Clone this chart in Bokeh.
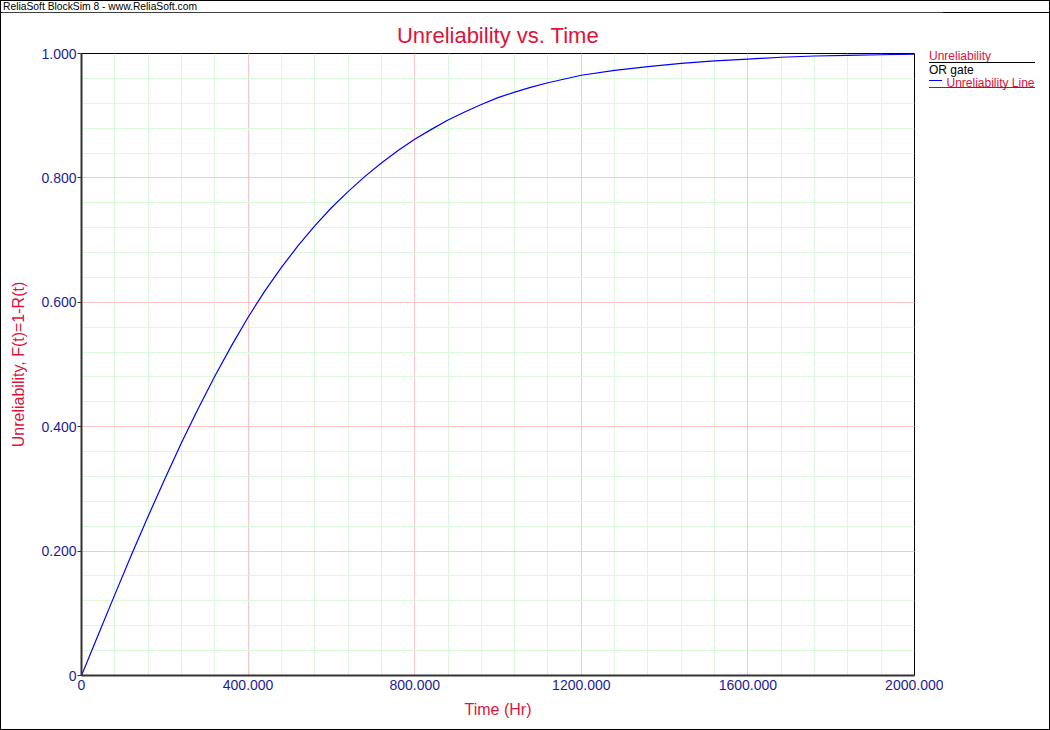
from bokeh.plotting import figure
from bokeh.models import Range1d, FixedTicker, CustomJSTickFormatter, Div
from bokeh.layouts import column, row
from bokeh.embed import file_html
from bokeh.resources import INLINE

# ---------------- data ----------------
time_hr = [0, 40, 80, 120, 160, 200, 240, 280, 320, 360, 400, 440, 480, 520, 560, 600,
           640, 680, 720, 760, 800, 840, 880, 920, 960, 1000, 1040, 1080, 1120, 1160,
           1200, 1280, 1360, 1440, 1520, 1600, 1680, 1760, 1840, 1920, 2000]
unreliability = [0.0, 0.065, 0.130, 0.194, 0.256, 0.316, 0.374, 0.429, 0.481, 0.530,
                 0.576, 0.618, 0.656, 0.691, 0.723, 0.752, 0.778, 0.802, 0.824, 0.844,
                 0.862, 0.878, 0.893, 0.906, 0.918, 0.929, 0.938, 0.946, 0.953, 0.959,
                 0.965, 0.973, 0.979, 0.984, 0.988, 0.991, 0.994, 0.996, 0.997, 0.998, 0.999]

x_ticks = [0, 400, 800, 1200, 1600, 2000]
x_tick_labels = ["0", "400.000", "800.000", "1200.000", "1600.000", "2000.000"]
x_minor_ticks = [0, 80, 160, 240, 320, 400, 480, 560, 640, 720, 800, 880, 960, 1040,
                 1120, 1200, 1280, 1360, 1440, 1520, 1600, 1680, 1760, 1840, 1920, 2000]
y_ticks = [0, 0.2, 0.4, 0.6, 0.8, 1.0]
y_tick_labels = ["0", "0.200", "0.400", "0.600", "0.800", "1.000"]
y_minor_ticks = [0, 0.04, 0.08, 0.12, 0.16, 0.2, 0.24, 0.28, 0.32, 0.36, 0.4, 0.44, 0.48,
                 0.52, 0.56, 0.6, 0.64, 0.68, 0.72, 0.76, 0.8, 0.84, 0.88, 0.92, 0.96, 1.0]

header_text = "ReliaSoft BlockSim 8 - www.ReliaSoft.com"
title_text = "Unreliability vs. Time"
x_title = "Time (Hr)"
y_title = "Unreliability, F(t)=1-R(t)"
legend_items = ["Unreliability", "OR gate", "Unreliability Line"]

# ---------------- style ----------------
FONT = "Liberation Sans"
CRIMSON = "#dc143c"
TICK_BLUE = "#1c1c9a"

FIG_W, FIG_H = 942, 717
p = figure(width=FIG_W, height=FIG_H, output_backend="svg", toolbar_location=None,
           x_range=Range1d(0, 2000), y_range=Range1d(0, 1.0),
           min_border_left=80, min_border_right=29,
           min_border_top=41, min_border_bottom=54,
           title=title_text)
p.background_fill_color = "white"
p.border_fill_color = "white"
p.outline_line_color = "black"
p.outline_line_width = 1

p.title.align = "center"
p.title.text_font = FONT
p.title.text_font_size = "22px"
p.title.text_font_style = "normal"
p.title.text_color = CRIMSON
p.title.standoff = 12

tick_js = """
const i = t.findIndex(v => Math.abs(v - tick) < 1e-9);
return i >= 0 ? l[i] : '';
"""
p.xaxis.ticker = FixedTicker(ticks=x_ticks, minor_ticks=x_minor_ticks)
p.yaxis.ticker = FixedTicker(ticks=y_ticks, minor_ticks=y_minor_ticks)
p.xaxis.formatter = CustomJSTickFormatter(args=dict(t=x_ticks, l=x_tick_labels), code=tick_js)
p.yaxis.formatter = CustomJSTickFormatter(args=dict(t=y_ticks, l=y_tick_labels), code=tick_js)

for ax in (p.xaxis, p.yaxis):
    ax.axis_line_color = "#333333"
    ax.axis_line_width = 2
    ax.major_tick_line_color = "#333333"
    ax.minor_tick_out = 0
    ax.minor_tick_in = 0
    ax.major_tick_in = 0
    ax.major_label_text_font = FONT
    ax.major_label_text_font_size = "14px"
    ax.major_label_text_color = TICK_BLUE
    ax.axis_label_text_font = FONT
    ax.axis_label_text_font_size = "16px"
    ax.axis_label_text_font_style = "normal"
    ax.axis_label_text_color = CRIMSON
p.xaxis.axis_label = x_title
p.yaxis.axis_label = y_title
p.xaxis.major_tick_out = 0
p.xaxis.major_label_standoff = 4
p.xaxis.axis_label_standoff = 8
p.yaxis.major_tick_out = 4
p.yaxis.major_label_standoff = 1
p.yaxis.axis_label_standoff = 11

for g in (p.xgrid, p.ygrid):
    g.grid_line_color = "#ffc4c4"
    g.grid_line_width = 1
    g.minor_grid_line_color = "#d9f9d9"
    g.minor_grid_line_width = 1
    g.level = "underlay"

p.line(time_hr, unreliability, line_color="#0000ff", line_width=1.2, line_join="round")


# ---------------- header and legend as HTML ----------------
def txt(left, top, s, color, size):
    return (f'<div style="position:absolute;left:{left}px;top:{top}px;'
            f'font-family:\'{FONT}\';font-size:{size}px;line-height:{size}px;height:{size}px;'
            f'white-space:nowrap;color:{color}">{s}</div>')


def rule(left, top, width, color):
    return (f'<div style="position:absolute;left:{left}px;top:{top}px;width:{width}px;'
            f'height:1px;background:{color}"></div>')


header_html = (
    '<div style="position:relative;width:1048px;height:11px">'
    + txt(2, -0.4, header_text, "black", 10.3)
    + rule(0, 10, 1048, "black")
    + '</div>'
)
header = Div(text=header_html, width=1048, height=11, margin=0,
             styles={"overflow": "visible"})

LEG = 12
leg_colors = [CRIMSON, "black", CRIMSON]
legend_html = (
    '<div style="position:relative;width:120px;height:717px">'
    + txt(0, 38.4, legend_items[0], leg_colors[0], LEG)
    + rule(0, 50, 106, "black")
    + txt(0, 52.0, legend_items[1], leg_colors[1], LEG)
    + rule(0, 68, 13, "#0000ff")
    + txt(17.5, 65.4, legend_items[2], leg_colors[2], LEG)
    + rule(0, 75, 106, "#444444")
    + '</div>'
)
legend = Div(text=legend_html, width=120, height=FIG_H, margin=(0, 0, 0, -14),
             styles={"overflow": "visible"})

layout = column(header, row(p, legend, spacing=0), spacing=0,
                width=1050, height=730,
                styles={"border": "1px solid black", "box-sizing": "border-box"})

open("out.html", "w").write(file_html(layout, INLINE))
